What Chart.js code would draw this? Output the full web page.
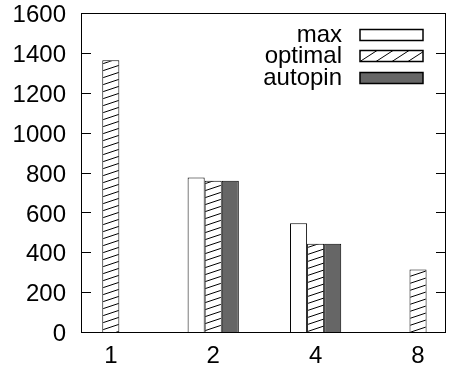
<!DOCTYPE html>
<html lang="en">
<head>
  <meta charset="UTF-8" />
  <script src="https://cdn.jsdelivr.net/npm/chart.js"></script>
  <style>
    body { margin: 0; background: #fff; }
  </style>
</head>
<body>
  <canvas id="chart" width="452" height="371"></canvas>

  <script>
    // data
    const categories = ['1', '2', '4', '8'];
    const maxValues = [null, 775, 545, null];
    const optimalValues = [1363, 758, 443, 313];
    const autopinValues = [null, 758, 443, null];
    const yTicks = [0, 200, 400, 600, 800, 1000, 1200, 1400, 1600];

    Chart.defaults.font.family = "'Liberation Sans', Arial, sans-serif";
    Chart.defaults.font.size = 24;
    Chart.defaults.color = '#000';

    // diagonal hatch used for the "optimal" bars
    function hatch() {
      const c = document.createElement('canvas');
      c.width = 21; c.height = 7;
      const g = c.getContext('2d');
      g.fillStyle = '#fff';
      g.fillRect(0, 0, 21, 7);
      g.strokeStyle = '#000';
      g.lineWidth = 1;
      for (const dy of [-7, 0, 7]) {
        g.beginPath();
        g.moveTo(-21, 14 + dy);
        g.lineTo(42, -7 + dy);
        g.stroke();
      }
      return g.createPattern(c, 'repeat');
    }

    // box around the plot, inward ticks, and the key
    const frame = {
      id: 'frame',
      afterDraw(chart) {
        const { ctx, chartArea: a, scales: { y } } = chart;
        ctx.save();
        ctx.strokeStyle = '#000';
        ctx.lineWidth = 1;
        ctx.strokeRect(a.left + 0.5, a.top + 0.5, a.width - 1, a.height);
        ctx.beginPath();
        yTicks.forEach(v => {
          const py = Math.round(y.getPixelForValue(v)) + 0.5;
          ctx.moveTo(a.left, py); ctx.lineTo(a.left + 10, py);
          ctx.moveTo(a.right, py); ctx.lineTo(a.right - 10, py);
        });
        ctx.stroke();

        ctx.font = "24px 'Liberation Sans', Arial, sans-serif";
        ctx.textAlign = 'right';
        ctx.textBaseline = 'middle';
        chart.data.datasets.forEach((ds, i) => {
          const cy = a.top + 21.5 + i * 21.3;
          ctx.fillStyle = '#000';
          ctx.fillText(ds.label, a.right - 104, cy + 1);
          const sx = a.right - 86, sy = Math.round(cy - 5.5) + 0.5, w = 63, h = 11;
          if (ds.label === 'optimal') {
            ctx.fillStyle = '#fff';
            ctx.fillRect(sx, sy, w, h);
            ctx.save();
            ctx.beginPath();
            ctx.rect(sx, sy, w, h);
            ctx.clip();
            ctx.beginPath();
            for (let k = -1; k < 5; k++) {
              ctx.moveTo(sx + k * 16, sy + h);
              ctx.lineTo(sx + k * 16 + 17, sy);
            }
            ctx.stroke();
            ctx.restore();
          } else {
            ctx.fillStyle = ds.backgroundColor;
            ctx.fillRect(sx, sy, w, h);
          }
          ctx.lineWidth = 1.5;
          ctx.strokeRect(sx, sy, w, h);
          ctx.lineWidth = 1;
        });
        ctx.restore();
      }
    };

    new Chart(document.getElementById('chart'), {
      type: 'bar',
      data: {
        labels: categories.map((_, i) => i),
        datasets: [
          { label: 'max', data: maxValues, backgroundColor: '#fff' },
          { label: 'optimal', data: optimalValues, backgroundColor: hatch() },
          { label: 'autopin', data: autopinValues, backgroundColor: '#666' },
        ],
      },
      options: {
        responsive: false,
        animation: false,
        layout: { padding: { top: 13, right: 6, left: 0, bottom: 0 } },
        datasets: {
          bar: {
            borderColor: '#000',
            borderWidth: 1,
            barPercentage: 1,
            categoryPercentage: 0.5,
          },
        },
        plugins: {
          legend: { display: false },
          tooltip: { enabled: false },
        },
        scales: {
          x: {
            type: 'linear',
            offset: false,
            min: -0.291,
            max: 3.273,
            afterBuildTicks: s => { s.ticks = categories.map((_, i) => ({ value: i })); },
            afterFit: s => { s.height = 39; s.paddingLeft = 0; s.paddingRight = 0; },
            grid: { display: false, drawTicks: false },
            border: { display: false },
            ticks: {
              padding: 10,
              autoSkip: false,
              maxRotation: 0,
              callback: v => categories[v],
            },
          },
          y: {
            min: 0,
            max: 1600,
            afterFit: s => { s.width = 81; s.paddingTop = 0; s.paddingBottom = 0; },
            grid: { display: false, drawTicks: false },
            border: { display: false },
            ticks: { stepSize: 200, padding: 15, labelOffset: 2.5, callback: v => String(v) },
          },
        },
      },
      plugins: [frame],
    });
  </script>
</body>
</html>
